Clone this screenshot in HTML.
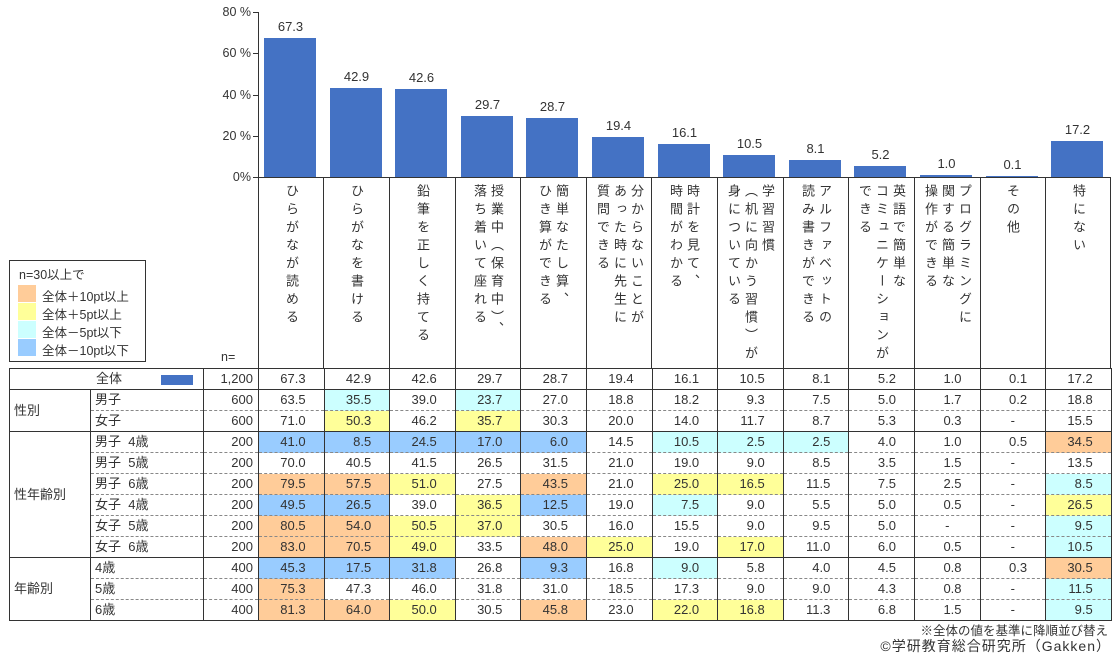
<!DOCTYPE html>
<html><head><meta charset="utf-8">
<style>
*{margin:0;padding:0;box-sizing:border-box}
body{width:1117px;height:655px;background:#fff;position:relative;overflow:hidden;font-family:"Liberation Sans","Noto Sans CJK JP",sans-serif;color:#333;font-size:13px}
.a{position:absolute}
.bar{position:absolute;background:#4472C4;width:52px}
.bl{position:absolute;width:65px;text-align:center;font-size:13px;line-height:14px}
.yl{position:absolute;right:866px;font-size:12.5px;line-height:14px;text-align:right}
.vt{position:absolute;top:184px;writing-mode:vertical-rl;font-size:13px;letter-spacing:5px;line-height:17px;white-space:nowrap}
table{position:absolute;left:9px;top:368px;border-collapse:collapse;table-layout:fixed;font-size:13px}
td{height:21px;padding:0;border-left:1px solid #333;border-right:1px solid #333;white-space:nowrap;line-height:20px}
td.n{text-align:right;padding-right:5px}
td.d{text-align:right;padding-right:18px}
td.m{text-align:center}
tr.s td{border-top:1px solid #333}
tr.h td{border-top:1px dashed #888}
tr.h td.g{border-top:none}
.o{background:#FFCC99}.y{background:#FFFF99}.c{background:#CCFFFF}.b{background:#99CCFF}
td.lab{padding-left:4px}
</style></head><body>
<div class="a" style="left:258px;top:12px;width:1px;height:356px;background:#333"></div>
<div class="a" style="left:253px;top:12px;width:5px;height:1px;background:#333"></div>
<div class="a" style="left:253px;top:53px;width:5px;height:1px;background:#333"></div>
<div class="a" style="left:253px;top:95px;width:5px;height:1px;background:#333"></div>
<div class="a" style="left:253px;top:136px;width:5px;height:1px;background:#333"></div>
<div class="a" style="left:253px;top:177px;width:858px;height:1px;background:#333"></div>
<div class="yl" style="top:5px">80 %</div>
<div class="yl" style="top:46px">60 %</div>
<div class="yl" style="top:88px">40 %</div>
<div class="yl" style="top:129px">20 %</div>
<div class="yl" style="top:170px">0%</div>
<div class="a" style="left:323px;top:177px;width:1px;height:191px;background:#333"></div>
<div class="a" style="left:389px;top:177px;width:1px;height:191px;background:#333"></div>
<div class="a" style="left:455px;top:177px;width:1px;height:191px;background:#333"></div>
<div class="a" style="left:520px;top:177px;width:1px;height:191px;background:#333"></div>
<div class="a" style="left:586px;top:177px;width:1px;height:191px;background:#333"></div>
<div class="a" style="left:651px;top:177px;width:1px;height:191px;background:#333"></div>
<div class="a" style="left:717px;top:177px;width:1px;height:191px;background:#333"></div>
<div class="a" style="left:783px;top:177px;width:1px;height:191px;background:#333"></div>
<div class="a" style="left:848px;top:177px;width:1px;height:191px;background:#333"></div>
<div class="a" style="left:914px;top:177px;width:1px;height:191px;background:#333"></div>
<div class="a" style="left:980px;top:177px;width:1px;height:191px;background:#333"></div>
<div class="a" style="left:1045px;top:177px;width:1px;height:191px;background:#333"></div>
<div class="a" style="left:1110px;top:177px;width:1px;height:191px;background:#333"></div>
<div class="bar" style="left:264px;top:38px;height:139px"></div>
<div class="bar" style="left:330px;top:88px;height:89px"></div>
<div class="bar" style="left:395px;top:89px;height:88px"></div>
<div class="bar" style="left:461px;top:116px;height:61px"></div>
<div class="bar" style="left:526px;top:118px;height:59px"></div>
<div class="bar" style="left:592px;top:137px;height:40px"></div>
<div class="bar" style="left:658px;top:144px;height:33px"></div>
<div class="bar" style="left:723px;top:155px;height:22px"></div>
<div class="bar" style="left:789px;top:160px;height:17px"></div>
<div class="bar" style="left:854px;top:166px;height:11px"></div>
<div class="bar" style="left:920px;top:175px;height:2px"></div>
<div class="bar" style="left:986px;top:176px;height:1px"></div>
<div class="bar" style="left:1051px;top:141px;height:36px"></div>
<div class="bl" style="left:258px;top:20px">67.3</div>
<div class="bl" style="left:324px;top:70px">42.9</div>
<div class="bl" style="left:389px;top:71px">42.6</div>
<div class="bl" style="left:455px;top:98px">29.7</div>
<div class="bl" style="left:520px;top:100px">28.7</div>
<div class="bl" style="left:586px;top:119px">19.4</div>
<div class="bl" style="left:652px;top:126px">16.1</div>
<div class="bl" style="left:717px;top:137px">10.5</div>
<div class="bl" style="left:783px;top:142px">8.1</div>
<div class="bl" style="left:848px;top:148px">5.2</div>
<div class="bl" style="left:914px;top:157px">1.0</div>
<div class="bl" style="left:980px;top:158px">0.1</div>
<div class="bl" style="left:1045px;top:123px">17.2</div>
<div class="vt" style="left:283px">ひらがなが読める</div>
<div class="vt" style="left:348px">ひらがなを書ける</div>
<div class="vt" style="left:414px">鉛筆を正しく持てる</div>
<div class="vt" style="left:471px">授業中（保育中）、<br>落ち着いて座れる</div>
<div class="vt" style="left:536px">簡単なたし算、<br>ひき算ができる</div>
<div class="vt" style="left:594px">分からないことが<br>あった時に先生に<br>質問できる</div>
<div class="vt" style="left:667px">時計を見て、<br>時間がわかる</div>
<div class="vt" style="left:725px">学習習慣<br>（机に向かう習慣）が<br>身についている</div>
<div class="vt" style="left:799px">アルファベットの<br>読み書きができる</div>
<div class="vt" style="left:856px">英語で簡単な<br>コミュニケーションが<br>できる</div>
<div class="vt" style="left:922px">プログラミングに<br>関する簡単な<br>操作ができる</div>
<div class="vt" style="left:1004px">その他</div>
<div class="vt" style="left:1070px">特にない</div>
<div class="a" style="left:9px;top:260px;width:137px;height:102px;border:1px solid #333"></div>
<div class="a" style="left:19px;top:264px;font-size:12.5px">n=30以上で</div>
<div class="a" style="left:18px;top:285px;width:18px;height:17px;background:#FFCC99"></div>
<div class="a" style="left:18px;top:303px;width:18px;height:17px;background:#FFFF99"></div>
<div class="a" style="left:18px;top:321px;width:18px;height:17px;background:#CCFFFF"></div>
<div class="a" style="left:18px;top:339px;width:18px;height:17px;background:#99CCFF"></div>
<div class="a" style="left:42px;top:286px;font-size:12.5px">全体＋10pt以上</div>
<div class="a" style="left:42px;top:304px;font-size:12.5px">全体＋5pt以上</div>
<div class="a" style="left:42px;top:322px;font-size:12.5px">全体－5pt以下</div>
<div class="a" style="left:42px;top:340px;font-size:12.5px">全体－10pt以下</div>
<div class="a" style="left:221px;top:350px;font-size:12.5px">n=</div>
<table>
<colgroup><col style="width:81px"><col style="width:113px"><col style="width:55px"><col style="width:65.6px"><col style="width:65.6px"><col style="width:65.6px"><col style="width:65.6px"><col style="width:65.6px"><col style="width:65.6px"><col style="width:65.6px"><col style="width:65.6px"><col style="width:65.6px"><col style="width:65.6px"><col style="width:65.6px"><col style="width:65.6px"><col style="width:65.6px"></colgroup>
<tr class="s"><td colspan="2" style="padding-left:86px;position:relative">全体<span style="position:absolute;left:151px;top:6px;width:32px;height:10px;background:#4472C4"></span></td><td class="n">1,200</td><td class="d">67.3</td><td class="d">42.9</td><td class="d">42.6</td><td class="d">29.7</td><td class="d">28.7</td><td class="d">19.4</td><td class="d">16.1</td><td class="d">10.5</td><td class="d">8.1</td><td class="d">5.2</td><td class="d">1.0</td><td class="d">0.1</td><td class="d">17.2</td></tr>
<tr class="s"><td class="g lab" rowspan="2">性別</td><td class="lab">男子</td><td class="n">600</td><td class="d">63.5</td><td class="d c">35.5</td><td class="d">39.0</td><td class="d c">23.7</td><td class="d">27.0</td><td class="d">18.8</td><td class="d">18.2</td><td class="d">9.3</td><td class="d">7.5</td><td class="d">5.0</td><td class="d">1.7</td><td class="d">0.2</td><td class="d">18.8</td></tr>
<tr class="h"><td class="lab">女子</td><td class="n">600</td><td class="d">71.0</td><td class="d y">50.3</td><td class="d">46.2</td><td class="d y">35.7</td><td class="d">30.3</td><td class="d">20.0</td><td class="d">14.0</td><td class="d">11.7</td><td class="d">8.7</td><td class="d">5.3</td><td class="d">0.3</td><td class="m">-</td><td class="d">15.5</td></tr>
<tr class="s"><td class="g lab" rowspan="6">性年齢別</td><td class="lab">男子&nbsp;&nbsp;4歳</td><td class="n">200</td><td class="d b">41.0</td><td class="d b">8.5</td><td class="d b">24.5</td><td class="d b">17.0</td><td class="d b">6.0</td><td class="d">14.5</td><td class="d c">10.5</td><td class="d c">2.5</td><td class="d c">2.5</td><td class="d">4.0</td><td class="d">1.0</td><td class="d">0.5</td><td class="d o">34.5</td></tr>
<tr class="h"><td class="lab">男子&nbsp;&nbsp;5歳</td><td class="n">200</td><td class="d">70.0</td><td class="d">40.5</td><td class="d">41.5</td><td class="d">26.5</td><td class="d">31.5</td><td class="d">21.0</td><td class="d">19.0</td><td class="d">9.0</td><td class="d">8.5</td><td class="d">3.5</td><td class="d">1.5</td><td class="m">-</td><td class="d">13.5</td></tr>
<tr class="h"><td class="lab">男子&nbsp;&nbsp;6歳</td><td class="n">200</td><td class="d o">79.5</td><td class="d o">57.5</td><td class="d y">51.0</td><td class="d">27.5</td><td class="d o">43.5</td><td class="d">21.0</td><td class="d y">25.0</td><td class="d y">16.5</td><td class="d">11.5</td><td class="d">7.5</td><td class="d">2.5</td><td class="m">-</td><td class="d c">8.5</td></tr>
<tr class="h"><td class="lab">女子&nbsp;&nbsp;4歳</td><td class="n">200</td><td class="d b">49.5</td><td class="d b">26.5</td><td class="d">39.0</td><td class="d y">36.5</td><td class="d b">12.5</td><td class="d">19.0</td><td class="d c">7.5</td><td class="d">9.0</td><td class="d">5.5</td><td class="d">5.0</td><td class="d">0.5</td><td class="m">-</td><td class="d y">26.5</td></tr>
<tr class="h"><td class="lab">女子&nbsp;&nbsp;5歳</td><td class="n">200</td><td class="d o">80.5</td><td class="d o">54.0</td><td class="d y">50.5</td><td class="d y">37.0</td><td class="d">30.5</td><td class="d">16.0</td><td class="d">15.5</td><td class="d">9.0</td><td class="d">9.5</td><td class="d">5.0</td><td class="m">-</td><td class="m">-</td><td class="d c">9.5</td></tr>
<tr class="h"><td class="lab">女子&nbsp;&nbsp;6歳</td><td class="n">200</td><td class="d o">83.0</td><td class="d o">70.5</td><td class="d y">49.0</td><td class="d">33.5</td><td class="d o">48.0</td><td class="d y">25.0</td><td class="d">19.0</td><td class="d y">17.0</td><td class="d">11.0</td><td class="d">6.0</td><td class="d">0.5</td><td class="m">-</td><td class="d c">10.5</td></tr>
<tr class="s"><td class="g lab" rowspan="3">年齢別</td><td class="lab">4歳</td><td class="n">400</td><td class="d b">45.3</td><td class="d b">17.5</td><td class="d b">31.8</td><td class="d">26.8</td><td class="d b">9.3</td><td class="d">16.8</td><td class="d c">9.0</td><td class="d">5.8</td><td class="d">4.0</td><td class="d">4.5</td><td class="d">0.8</td><td class="d">0.3</td><td class="d o">30.5</td></tr>
<tr class="h"><td class="lab">5歳</td><td class="n">400</td><td class="d o">75.3</td><td class="d">47.3</td><td class="d">46.0</td><td class="d">31.8</td><td class="d">31.0</td><td class="d">18.5</td><td class="d">17.3</td><td class="d">9.0</td><td class="d">9.0</td><td class="d">4.3</td><td class="d">0.8</td><td class="m">-</td><td class="d c">11.5</td></tr>
<tr class="h" style="border-bottom:1px solid #333"><td class="lab">6歳</td><td class="n">400</td><td class="d o">81.3</td><td class="d o">64.0</td><td class="d y">50.0</td><td class="d">30.5</td><td class="d o">45.8</td><td class="d">23.0</td><td class="d y">22.0</td><td class="d y">16.8</td><td class="d">11.3</td><td class="d">6.8</td><td class="d">1.5</td><td class="m">-</td><td class="d c">9.5</td></tr>
</table>
<div class="a" style="right:9px;top:620px;font-size:12.5px">※全体の値を基準に降順並び替え</div>
<div class="a" style="right:6px;top:636px;font-size:14px;letter-spacing:1px">©学研教育総合研究所（Gakken）</div>
</body></html>
